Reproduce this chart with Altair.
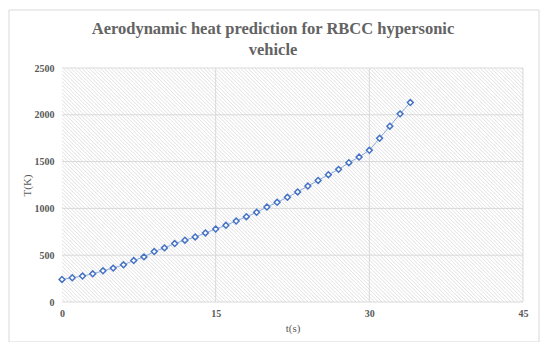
import altair as alt
import pandas as pd

# Data
t_values = [0, 1, 2, 3, 4, 5, 6, 7, 8, 9, 10, 11, 12, 13, 14, 15, 16, 17,
            18, 19, 20, 21, 22, 23, 24, 25, 26, 27, 28, 29, 30, 31, 32, 33, 34]
T_values = [241, 259, 277, 301, 333, 362, 397, 443, 482, 539, 578, 624, 660,
            695, 738, 780, 819, 865, 911, 958, 1015, 1065, 1119, 1176, 1239,
            1299, 1360, 1417, 1488, 1549, 1621, 1749, 1878, 2010, 2131]
x_ticks = [0, 15, 30, 45]
y_ticks = [0, 500, 1000, 1500, 2000, 2500]
title_lines = ["Aerodynamic heat prediction for RBCC hypersonic", "vehicle"]

W, H = 461, 234
FONT = "Liberation Serif"
TXT = "#595959"
GRID = "#d9d9d9"

df = pd.DataFrame({"t": t_values, "T": T_values})

xs = alt.Scale(domain=[0, 45], nice=False)
ys = alt.Scale(domain=[0, 2500], nice=False)

axis_common = dict(
    grid=False, domain=False, ticks=False, labelFlush=False, format="d",
    labelFont=FONT, labelFontSize=10, labelFontWeight="bold", labelColor=TXT,
    titleFont=FONT, titleFontSize=11, titleFontWeight="normal", titleColor=TXT,
)
x_axis = alt.Axis(values=x_ticks, title="t(s)", labelPadding=6,
                  titleY=26, titleBaseline="middle", **axis_common)
y_axis = alt.Axis(values=y_ticks, title="T(K)", labelPadding=8,
                  titleX=-35, titleY=H / 2, titleAngle=-90,
                  titleAlign="center", titleBaseline="middle", **axis_common)

# outer chart frame (outline only)
frame = alt.Chart(pd.DataFrame({"a": [0]})).mark_rect(
    filled=False, stroke=GRID, strokeWidth=1, clip=False
).encode(x=alt.value(-53), x2=alt.value(477), y=alt.value(-58), y2=alt.value(274))

# chart title as text
title = alt.Chart(pd.DataFrame({"a": [0]})).mark_text(
    font=FONT, fontSize=16.5, fontWeight="bold", color="#636363",
    align="center", baseline="alphabetic", lineHeight=21,
).encode(x=alt.value(211), y=alt.value(-34), text=alt.value(title_lines))

# diagonal hatch background (decorative texture), 45 degrees in pixel space
slant = 45.0 * H / W
hatch = alt.Chart(
    alt.SequenceGenerator(sequence={"start": -24, "stop": 46, "step": 0.36})
).transform_calculate(
    x2=f"datum.data + {slant}"
).mark_rule(color="#d4d4d4", strokeWidth=0.7, clip=True).encode(
    x=alt.X("data:Q", scale=xs, axis=x_axis),
    x2="x2:Q",
    y=alt.value(0),
    y2=alt.value(H),
)

hgrid = alt.Chart(pd.DataFrame({"v": y_ticks})).mark_rule(
    color=GRID, strokeWidth=1
).encode(y=alt.Y("v:Q", scale=ys, axis=y_axis))

vgrid = alt.Chart(pd.DataFrame({"v": x_ticks[1:]})).mark_rule(
    color=GRID, strokeWidth=1
).encode(x=alt.X("v:Q", scale=xs, axis=x_axis))

line = alt.Chart(df).mark_line(color="#8eaadb", strokeWidth=1).encode(
    x=alt.X("t:Q", scale=xs, axis=x_axis),
    y=alt.Y("T:Q", scale=ys, axis=y_axis),
)

points = alt.Chart(df).mark_point(
    shape="diamond", filled=True, fill="white", stroke="#4472c4",
    strokeWidth=1.5, size=34, opacity=1
).encode(
    x=alt.X("t:Q", scale=xs, axis=x_axis),
    y=alt.Y("T:Q", scale=ys, axis=y_axis),
)

chart = alt.layer(frame, title, hatch, hgrid, vgrid, line, points).properties(
    width=W, height=H,
    autosize=alt.AutoSizeParams(type="none"),
    padding={"left": 54, "top": 60, "right": 17, "bottom": 40},
).configure_view(stroke=None)

chart.save("out.html", embed_options={"renderer": "svg", "actions": False})
